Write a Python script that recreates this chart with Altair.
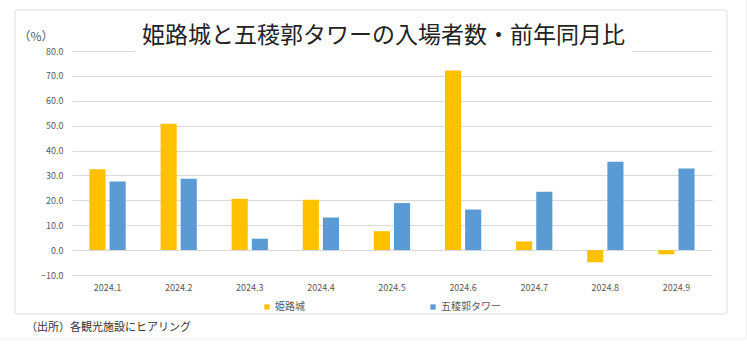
import altair as alt
import pandas as pd

months = ["2024.1", "2024.2", "2024.3", "2024.4", "2024.5", "2024.6", "2024.7", "2024.8", "2024.9"]
himeji = [32.5, 50.8, 20.6, 20.2, 7.6, 72.2, 3.5, -4.9, -1.7]
goryokaku = [27.6, 28.7, 4.6, 13.1, 18.9, 16.3, 23.4, 35.5, 32.8]
series = ["姫路城", "五稜郭タワー"]
colors = ["#FFC000", "#5B9BD5"]
y_ticks = [-10, 0, 10, 20, 30, 40, 50, 60, 70, 80]
title_text = "姫路城と五稜郭タワーの入場者数・前年同月比"
caption_text = "（出所）各観光施設にヒアリング"

rows = []
for m, a, b in zip(months, himeji, goryokaku):
    rows.append({"month": m, "series": series[0], "value": a})
    rows.append({"month": m, "series": series[1], "value": b})
df = pd.DataFrame(rows)

FONT = "Noto Sans CJK JP"

bars = alt.Chart(df).mark_bar().encode(
    x=alt.X("month:N", sort=months,
            scale=alt.Scale(paddingInner=0.49, paddingOuter=0.245),
            axis=alt.Axis(title=None, labelAngle=0, domain=False, ticks=False,
                          labelFontSize=9, labelColor="#595959", labelPadding=8,
                          labelFont=FONT)),
    xOffset=alt.XOffset("series:N", sort=series, scale=alt.Scale(paddingInner=0.2)),
    y=alt.Y("value:Q", scale=alt.Scale(domain=[-10, 80], nice=False, zero=False),
            axis=alt.Axis(values=y_ticks, format=".1f", domain=False, ticks=False,
                          gridColor="#d9d9d9", labelFontSize=9, labelColor="#595959",
                          labelPadding=9, labelFont=FONT,
                          title="（%）", titleAngle=0, titleX=-54, titleY=-15,
                          titleAlign="left", titleBaseline="middle",
                          titleFontSize=12, titleFontWeight="normal",
                          titleColor="#595959", titleFont=FONT)),
    color=alt.Color("series:N", sort=series,
                    scale=alt.Scale(domain=series, range=colors),
                    legend=alt.Legend(title=None, orient="none", direction="horizontal",
                                      legendX=190, legendY=251, symbolType="square",
                                      symbolSize=28, symbolStrokeWidth=0,
                                      labelFontSize=10, labelColor="#595959",
                                      labelFont=FONT, columnPadding=123,
                                      labelOffset=3)),
)

# white patch behind the title over the top gridline
patch = alt.Chart(pd.DataFrame({"a": [0]})).mark_rect(color="white").encode(
    x=alt.value(63), x2=alt.value(560), y=alt.value(-3), y2=alt.value(3)
)

frame = alt.Chart(pd.DataFrame({"a": [0]})).mark_rect(
    fill=None, stroke="#dcdcdc", strokeWidth=1, cornerRadius=2
).encode(x=alt.value(-57), x2=alt.value(655), y=alt.value(-41), y2=alt.value(263))

outer = alt.Chart(pd.DataFrame({"a": [0]})).mark_rect(
    fill=None, stroke="#eeeeee", strokeWidth=1
).encode(x=alt.value(-80), x2=alt.value(674), y=alt.value(-60), y2=alt.value(288))

title = alt.Chart(pd.DataFrame({"t": [title_text]})).mark_text(
    align="center", baseline="middle", fontSize=23, font=FONT, color="#222222"
).encode(x=alt.value(311.5), y=alt.value(-15), text="t:N")

caption = alt.Chart(pd.DataFrame({"t": [caption_text]})).mark_text(
    align="left", baseline="middle", fontSize=11, font=FONT, color="#333333"
).encode(x=alt.value(-46), y=alt.value(277), text="t:N")

chart = alt.layer(outer, frame, patch, bars, title, caption).properties(
    width=640, height=224,
    padding={"left": 72, "top": 51, "right": 35, "bottom": 77},
    autosize=alt.AutoSizeParams(type="none"),
).configure_view(stroke=None)

chart.save("out.html", embed_options={"renderer": "svg", "actions": False})
